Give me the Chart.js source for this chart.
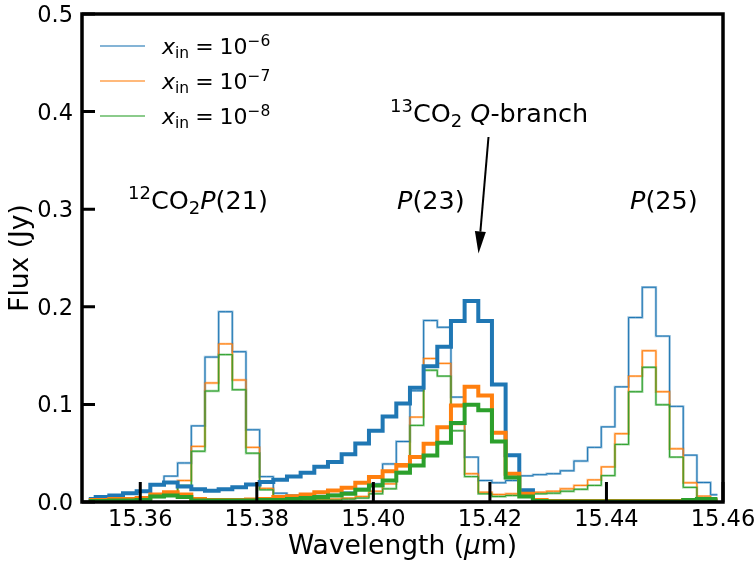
<!DOCTYPE html>
<html>
<head>
<meta charset="utf-8">
<script src="https://cdn.jsdelivr.net/npm/chart.js"></script>
<style>
  html, body { margin: 0; padding: 0; background: #fff; }
  canvas { display: block; }
</style>
</head>
<body>
<canvas id="c" width="755" height="562"></canvas>
<script>
// bin centres (um) of the spectrum grid
const wavelength = [
  15.35117, 15.35352, 15.35586, 15.35821, 15.36055, 15.36290, 15.36524, 15.36759, 15.36993, 15.37228,
  15.37462, 15.37697, 15.37931, 15.38166, 15.38400, 15.38635, 15.38869, 15.39104, 15.39338, 15.39573,
  15.39807, 15.40042, 15.40276, 15.40511, 15.40745, 15.40980, 15.41214, 15.41449, 15.41683, 15.41918,
  15.42152, 15.42387, 15.42621, 15.42856, 15.43090, 15.43325, 15.43559, 15.43794, 15.44028, 15.44263,
  15.44497, 15.44732, 15.44966, 15.45201, 15.45435, 15.45670, 15.45904
];

// thin lines: 12CO2 lines, x_in = 1e-6, 1e-7, 1e-8
const thin6 = [
  0.003, 0.0056, 0.0067, 0.0085, 0.011, 0.018, 0.0265, 0.040, 0.078, 0.1485,
  0.195, 0.154, 0.074, 0.026, 0.009, 0.007, 0.006, 0.0065, 0.0077, 0.010,
  0.0135, 0.0186, 0.039, 0.062, 0.114, 0.186, 0.179, 0.1075, 0.046, 0.022,
  0.0197, 0.022, 0.0268, 0.028, 0.029, 0.032, 0.042, 0.056, 0.077, 0.118,
  0.189, 0.220, 0.170, 0.098, 0.048, 0.020, 0.0074
];
const thin7 = [
  0.0015, 0.002, 0.003, 0.004, 0.005, 0.007, 0.010, 0.022, 0.057, 0.122,
  0.162, 0.125, 0.056, 0.014, 0.004, 0.003, 0.003, 0.003, 0.003, 0.004,
  0.0056, 0.011, 0.0186, 0.036, 0.087, 0.147, 0.142, 0.0795, 0.029, 0.010,
  0.0077, 0.0084, 0.010, 0.010, 0.011, 0.0135, 0.017, 0.0227, 0.036, 0.070,
  0.129, 0.155, 0.113, 0.0545, 0.0197, 0.006, 0.003
];
const thin8 = [
  0.001, 0.0015, 0.002, 0.003, 0.004, 0.005, 0.008, 0.017, 0.052, 0.1137,
  0.151, 0.115, 0.050, 0.0125, 0.003, 0.002, 0.002, 0.002, 0.002, 0.003,
  0.004, 0.0084, 0.0135, 0.031, 0.0785, 0.135, 0.129, 0.073, 0.026, 0.0084,
  0.0056, 0.0067, 0.0077, 0.0084, 0.009, 0.011, 0.013, 0.017, 0.027, 0.059,
  0.113, 0.138, 0.0996, 0.046, 0.015, 0.004, 0.002
];

// thick lines: 13CO2 Q-branch
const qb6 = [
  0.003, 0.005, 0.0067, 0.009, 0.011, 0.0176, 0.020, 0.016, 0.013, 0.0115,
  0.013, 0.015, 0.018, 0.0205, 0.0227, 0.026, 0.030, 0.036, 0.041, 0.049,
  0.060, 0.073, 0.0877, 0.101, 0.117, 0.139, 0.159, 0.1855, 0.206, 0.1855,
  0.1205, 0.048, 0.012, 0.001, 0, 0, 0, 0, 0, 0,
  0, 0, 0, 0, 0.001, 0.001, 0.001
];
const qb7 = [
  0.002, 0.002, 0.003, 0.003, 0.004, 0.0077, 0.010, 0.0077, 0.003, 0.002,
  0.002, 0.002, 0.0025, 0.003, 0.005, 0.006, 0.0077, 0.010, 0.0118, 0.0145,
  0.0197, 0.0255, 0.0316, 0.038, 0.046, 0.0597, 0.0767, 0.099, 0.118, 0.109,
  0.071, 0.029, 0.0084, 0.002, 0.001, 0.001, 0.001, 0.001, 0.001, 0.001,
  0.001, 0.001, 0.001, 0.001, 0.002, 0.002, 0.002
];
const qb8 = [
  0.001, 0.001, 0.0015, 0.0015, 0.002, 0.0056, 0.0067, 0.005, 0.0015, 0.0015,
  0.0015, 0.0015, 0.0015, 0.002, 0.002, 0.003, 0.004, 0.005, 0.0067, 0.0084,
  0.0125, 0.0169, 0.022, 0.030, 0.0374, 0.0477, 0.0607, 0.081, 0.0997, 0.094,
  0.062, 0.025, 0.0056, 0.001, 0.0005, 0.0005, 0.0005, 0.0005, 0.0005, 0.0005,
  0.0005, 0.0005, 0.0005, 0.0005, 0.002, 0.003, 0.003
];

const xTicks = [15.36, 15.38, 15.40, 15.42, 15.44, 15.46];
const yTicks = [0.0, 0.1, 0.2, 0.3, 0.4, 0.5];
const legendExp = ["6", "7", "8"];

const BLUE = "#1f77b4", ORANGE = "#ff7f0e", GREEN = "#2ca02c";
const FONT = '"DejaVu Sans"';
const SX = 1.0; // horizontal text squeeze

function pts(arr) {
  return wavelength.map((w, i) => ({ x: w, y: arr[i] }));
}

function line(arr, color, width, order) {
  return {
    data: pts(arr),
    borderColor: color,
    borderWidth: width,
    stepped: "middle",
    fill: false,
    pointRadius: 0,
    borderJoinStyle: "miter",
    borderCapStyle: "butt",
    order: order
  };
}

function alpha(hex, a) {
  const n = parseInt(hex.slice(1), 16);
  return `rgba(${(n >> 16) & 255},${(n >> 8) & 255},${n & 255},${a})`;
}

// draw a row of text pieces (mathtext-ish): {t, s, dy, it, gap}
function runs(ctx, parts, x, y, align) {
  let total = 0;
  const widths = parts.map(p => {
    ctx.font = `${p.it ? "italic " : ""}${p.s}px ${FONT}`;
    const w = ctx.measureText(p.t).width + (p.gap || 0);
    total += w;
    return w;
  });
  let start = x;
  if (align === "center") start = x - total * SX / 2;
  if (align === "right") start = x - total * SX;
  ctx.save();
  ctx.translate(start, y);
  ctx.scale(SX, 1);
  ctx.fillStyle = "#000";
  ctx.textBaseline = "alphabetic";
  ctx.textAlign = "left";
  let cx = 0;
  parts.forEach((p, i) => {
    ctx.font = `${p.it ? "italic " : ""}${p.s}px ${FONT}`;
    ctx.fillText(p.t, cx + (p.pre || 0), p.dy || 0);
    cx += widths[i];
  });
  ctx.restore();
}

const decor = {
  id: "decor",
  afterDraw(chart) {
    const ctx = chart.ctx;
    const a = chart.chartArea;
    const xs = chart.scales.x, ys = chart.scales.y;

    // frame
    ctx.save();
    ctx.strokeStyle = "#000";
    ctx.lineWidth = 3.5;
    ctx.strokeRect(a.left, a.top, a.right - a.left, a.bottom - a.top);

    // inward ticks
    ctx.lineWidth = 3;
    ctx.beginPath();
    xTicks.forEach(v => {
      const px = xs.getPixelForValue(v);
      ctx.moveTo(px, a.bottom);
      ctx.lineTo(px, a.bottom - 20);
    });
    yTicks.forEach(v => {
      const py = ys.getPixelForValue(v);
      ctx.moveTo(a.left, py);
      ctx.lineTo(a.left + 13, py);
    });
    ctx.stroke();
    ctx.restore();

    // tick labels
    xTicks.forEach(v => {
      runs(ctx, [{ t: v.toFixed(2), s: 22.5 }], xs.getPixelForValue(v), a.bottom + 24, "center");
    });
    yTicks.forEach(v => {
      runs(ctx, [{ t: v.toFixed(1), s: 22.5 }], a.left - 9, ys.getPixelForValue(v) + 8, "right");
    });

    // axis titles
    runs(ctx, [{ t: "Wavelength (", s: 26.5 }, { t: "\u03bc", s: 26.5, it: true }, { t: "m)", s: 26.5 }],
      (a.left + a.right) / 2, 554, "center");
    ctx.save();
    ctx.translate(28, (a.top + a.bottom) / 2);
    ctx.rotate(-Math.PI / 2);
    runs(ctx, [{ t: "Flux (Jy)", s: 26.5 }], 0, 0, "center");
    ctx.restore();

    // legend
    const cols = [BLUE, ORANGE, GREEN];
    cols.forEach((c, i) => {
      const ly = 46 + i * 35;
      ctx.save();
      ctx.strokeStyle = alpha(c, 0.55);
      ctx.lineWidth = 2;
      ctx.beginPath();
      ctx.moveTo(100, ly);
      ctx.lineTo(145, ly);
      ctx.stroke();
      ctx.restore();
      runs(ctx, [
        { t: "x", s: 22, it: true },
        { t: "in", s: 15.5, dy: 4 },
        { t: "=", s: 22, pre: 6, gap: 12 },
        { t: "10", s: 22 },
        { t: "\u2212" + legendExp[i], s: 15.5, dy: -8 }
      ], 162, ly + 7.5, "left");
    });

    // line annotations
    runs(ctx, [
      { t: "12", s: 18, dy: -10 },
      { t: "CO", s: 25.5 },
      { t: "2", s: 18, dy: 5 },
      { t: "P", s: 25.5, it: true },
      { t: "(21)", s: 25.5 }
    ], 128, 208.5, "left");
    runs(ctx, [{ t: "P", s: 25.5, it: true }, { t: "(23)", s: 25.5 }], 397, 208.5, "left");
    runs(ctx, [{ t: "P", s: 25.5, it: true }, { t: "(25)", s: 25.5 }], 630, 208.5, "left");
    runs(ctx, [
      { t: "13", s: 18, dy: -10 },
      { t: "CO", s: 25.5 },
      { t: "2", s: 18, dy: 5 },
      { t: " ", s: 25.5 },
      { t: "Q", s: 25.5, it: true },
      { t: "-branch", s: 25.5 }
    ], 390, 121.5, "left");

    // arrow to the Q-branch
    const x0 = 488.5, y0 = 137, x1 = 478.5, y1 = 253.5;
    const ang = Math.atan2(y1 - y0, x1 - x0);
    const hl = 22, hw = 5.5;
    const bx = x1 - hl * Math.cos(ang), by = y1 - hl * Math.sin(ang);
    ctx.save();
    ctx.strokeStyle = "#000";
    ctx.fillStyle = "#000";
    ctx.lineWidth = 2;
    ctx.beginPath();
    ctx.moveTo(x0, y0);
    ctx.lineTo(bx, by);
    ctx.stroke();
    ctx.beginPath();
    ctx.moveTo(x1, y1);
    ctx.lineTo(bx + hw * Math.sin(ang), by - hw * Math.cos(ang));
    ctx.lineTo(bx - hw * Math.sin(ang), by + hw * Math.cos(ang));
    ctx.closePath();
    ctx.fill();
    ctx.restore();
  }
};

const datasets = [
  line(qb8, GREEN, 4, 0),
  line(qb7, ORANGE, 4, 1),
  line(qb6, BLUE, 4, 2),
  line(thin8, GREEN, 1, 3),
  line(thin7, ORANGE, 1, 4),
  line(thin6, BLUE, 1, 5),
  line(thin8, alpha(GREEN, 0.45), 2.4, 6),
  line(thin7, alpha(ORANGE, 0.45), 2.4, 7),
  line(thin6, alpha(BLUE, 0.45), 2.4, 8)
];

new Chart(document.getElementById("c"), {
  type: "line",
  data: { datasets: datasets },
  options: {
    responsive: false,
    animation: false,
    devicePixelRatio: 1,
    layout: { padding: { left: 82, right: 32, top: 14, bottom: 60 } },
    plugins: { legend: { display: false }, tooltip: { enabled: false } },
    scales: {
      x: { type: "linear", min: 15.35, max: 15.46, display: false },
      y: { min: 0, max: 0.5, display: false }
    }
  },
  plugins: [decor]
});
</script>
</body>
</html>
